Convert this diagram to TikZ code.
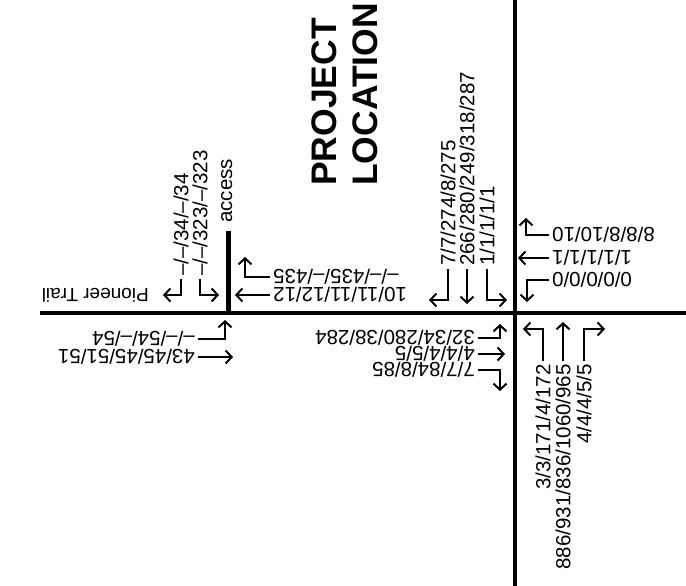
\documentclass[tikz,border=0pt]{standalone}
\usepackage{fontspec}
\setmainfont{Liberation Sans}
\usetikzlibrary{arrows.meta}

\begin{document}
\begin{tikzpicture}[
    x=1pt, y=-1pt,
    line join=miter,
    road/.style={black, line width=4.3pt},                 % street centre lines
    mv/.style={black, line width=2pt,
               -{Straight Barb[length=6pt,width=13pt]}},    % turning movement
    vol/.style={black, font=\fontsize{20.5}{22}\selectfont, inner sep=3pt},
    volup/.style={vol, rotate=90},
    voldn/.style={vol, rotate=180},
    title/.style={black, font=\fontsize{35.5}{40}\selectfont\bfseries,
                  inner sep=0pt, rotate=90},
  ]
  \useasboundingbox (0,0) rectangle (686,586);

  % ---- road coordinates -------------------------------------
  \coordinate (RN)   at (515,  0);   % main road, north end
  \coordinate (RS)   at (515,586);   % main road, south end
  \coordinate (PW)   at ( 40,313);   % Pioneer Trail, west end
  \coordinate (PE)   at (686,313);   % Pioneer Trail, east end
  \coordinate (AT)   at (228.5,231); % access, top
  \coordinate (AX)   at (228.5,313); % access junction

  % ---- roads ------------------------------------------------
  \draw[road] (RN) -- (RS);
  \draw[road] (PW) -- (PE);
  \draw[road] (AT) -- (AX);

  % ---- names ------------------------------------------------
  \node[title, anchor=base west] (proj) at (336,186) {PROJECT};
  \node[title, anchor=base west] (loc)  at (377,186) {LOCATION};
  \node[volup, anchor=base west, inner sep=0pt] (acc) at (232,223) {access};
  \node[voldn, anchor=base west, inner sep=0pt,
        font=\fontsize{19}{22}\selectfont] (pt) at (149,288) {Pioneer Trail};

  % ---- access junction --------------------------------------
  \node[volup, anchor=west] (l34)  at (181,279) {--/--/34/--/34};
  \node[volup, anchor=west] (l323) at (200,279) {--/--/323/--/323};
  \node[voldn, anchor=east] (r435) at (270,277) {--/--/435/--/435};
  \node[voldn, anchor=east] (r10)  at (270,295) {10/11/11/12/12};
  \node[voldn, anchor=west] (b54)  at (198,339) {--/--/54/--/54};
  \node[voldn, anchor=west] (b43)  at (198,357) {43/45/45/51/51};

  \coordinate (l34tip)  at (163,295);
  \coordinate (l323tip) at (219,295);
  \coordinate (r435tip) at (245,257);
  \coordinate (r10tip)  at (235,295);
  \coordinate (b54tip)  at (225,320);
  \coordinate (b43tip)  at (233,357);

  \draw[mv] (l34.west)  |- (l34tip);
  \draw[mv] (l323.west) |- (l323tip);
  \draw[mv] (r435.east) -| (r435tip);
  \draw[mv] (r10.east)  -- (r10tip);
  \draw[mv] (b54.west)  -| (b54tip);
  \draw[mv] (b43.west)  -- (b43tip);

  % ---- main intersection ------------------------------------
  \node[volup, anchor=west] (u7)   at (448,269) {7/7/274/8/275};
  \node[volup, anchor=west] (u266) at (467,269) {266/280/249/318/287};
  \node[volup, anchor=west] (u1)   at (487,269) {1/1/1/1/1};
  \node[voldn, anchor=east] (r8)   at (549,235) {8/8/8/10/10};
  \node[voldn, anchor=east] (r1)   at (549,258) {1/1/1/1/1};
  \node[voldn, anchor=east] (r0)   at (549,280) {0/0/0/0/0};
  \node[voldn, anchor=west] (d32)  at (478,338) {32/34/280/38/284};
  \node[voldn, anchor=west] (d4)   at (478,354) {4/4/4/5/5};
  \node[voldn, anchor=west] (d7)   at (478,370) {7/7/84/8/85};
  \node[volup, anchor=east] (e3)   at (543,361) {3/3/171/4/172};
  \node[volup, anchor=east] (e886) at (563,361) {886/931/836/1060/965};
  \node[volup, anchor=east] (e4)   at (584,361) {4/4/4/5/5};

  \coordinate (u7tip)   at (429,300);
  \coordinate (u266tip) at (467,304);
  \coordinate (u1tip)   at (507,300);
  \coordinate (r8tip)   at (526,218);
  \coordinate (r1tip)   at (518,258);
  \coordinate (r0tip)   at (527,302);
  \coordinate (d32tip)  at (500,324);
  \coordinate (d4tip)   at (505,354);
  \coordinate (d7tip)   at (500,391);
  \coordinate (e3tip)   at (523,329);
  \coordinate (e886tip) at (563,322);
  \coordinate (e4tip)   at (605,329);

  \draw[mv] (u7.west)   |- (u7tip);
  \draw[mv] (u266.west) -- (u266tip);
  \draw[mv] (u1.west)   |- (u1tip);
  \draw[mv] (r8.east)   -| (r8tip);
  \draw[mv] (r1.east)   -- (r1tip);
  \draw[mv] (r0.east)   -| (r0tip);
  \draw[mv] (d32.west)  -| (d32tip);
  \draw[mv] (d4.west)   -- (d4tip);
  \draw[mv] (d7.west)   -| (d7tip);
  \draw[mv] (e3.east)   |- (e3tip);
  \draw[mv] (e886.east) -- (e886tip);
  \draw[mv] (e4.east)   |- (e4tip);

\end{tikzpicture}
\end{document}
